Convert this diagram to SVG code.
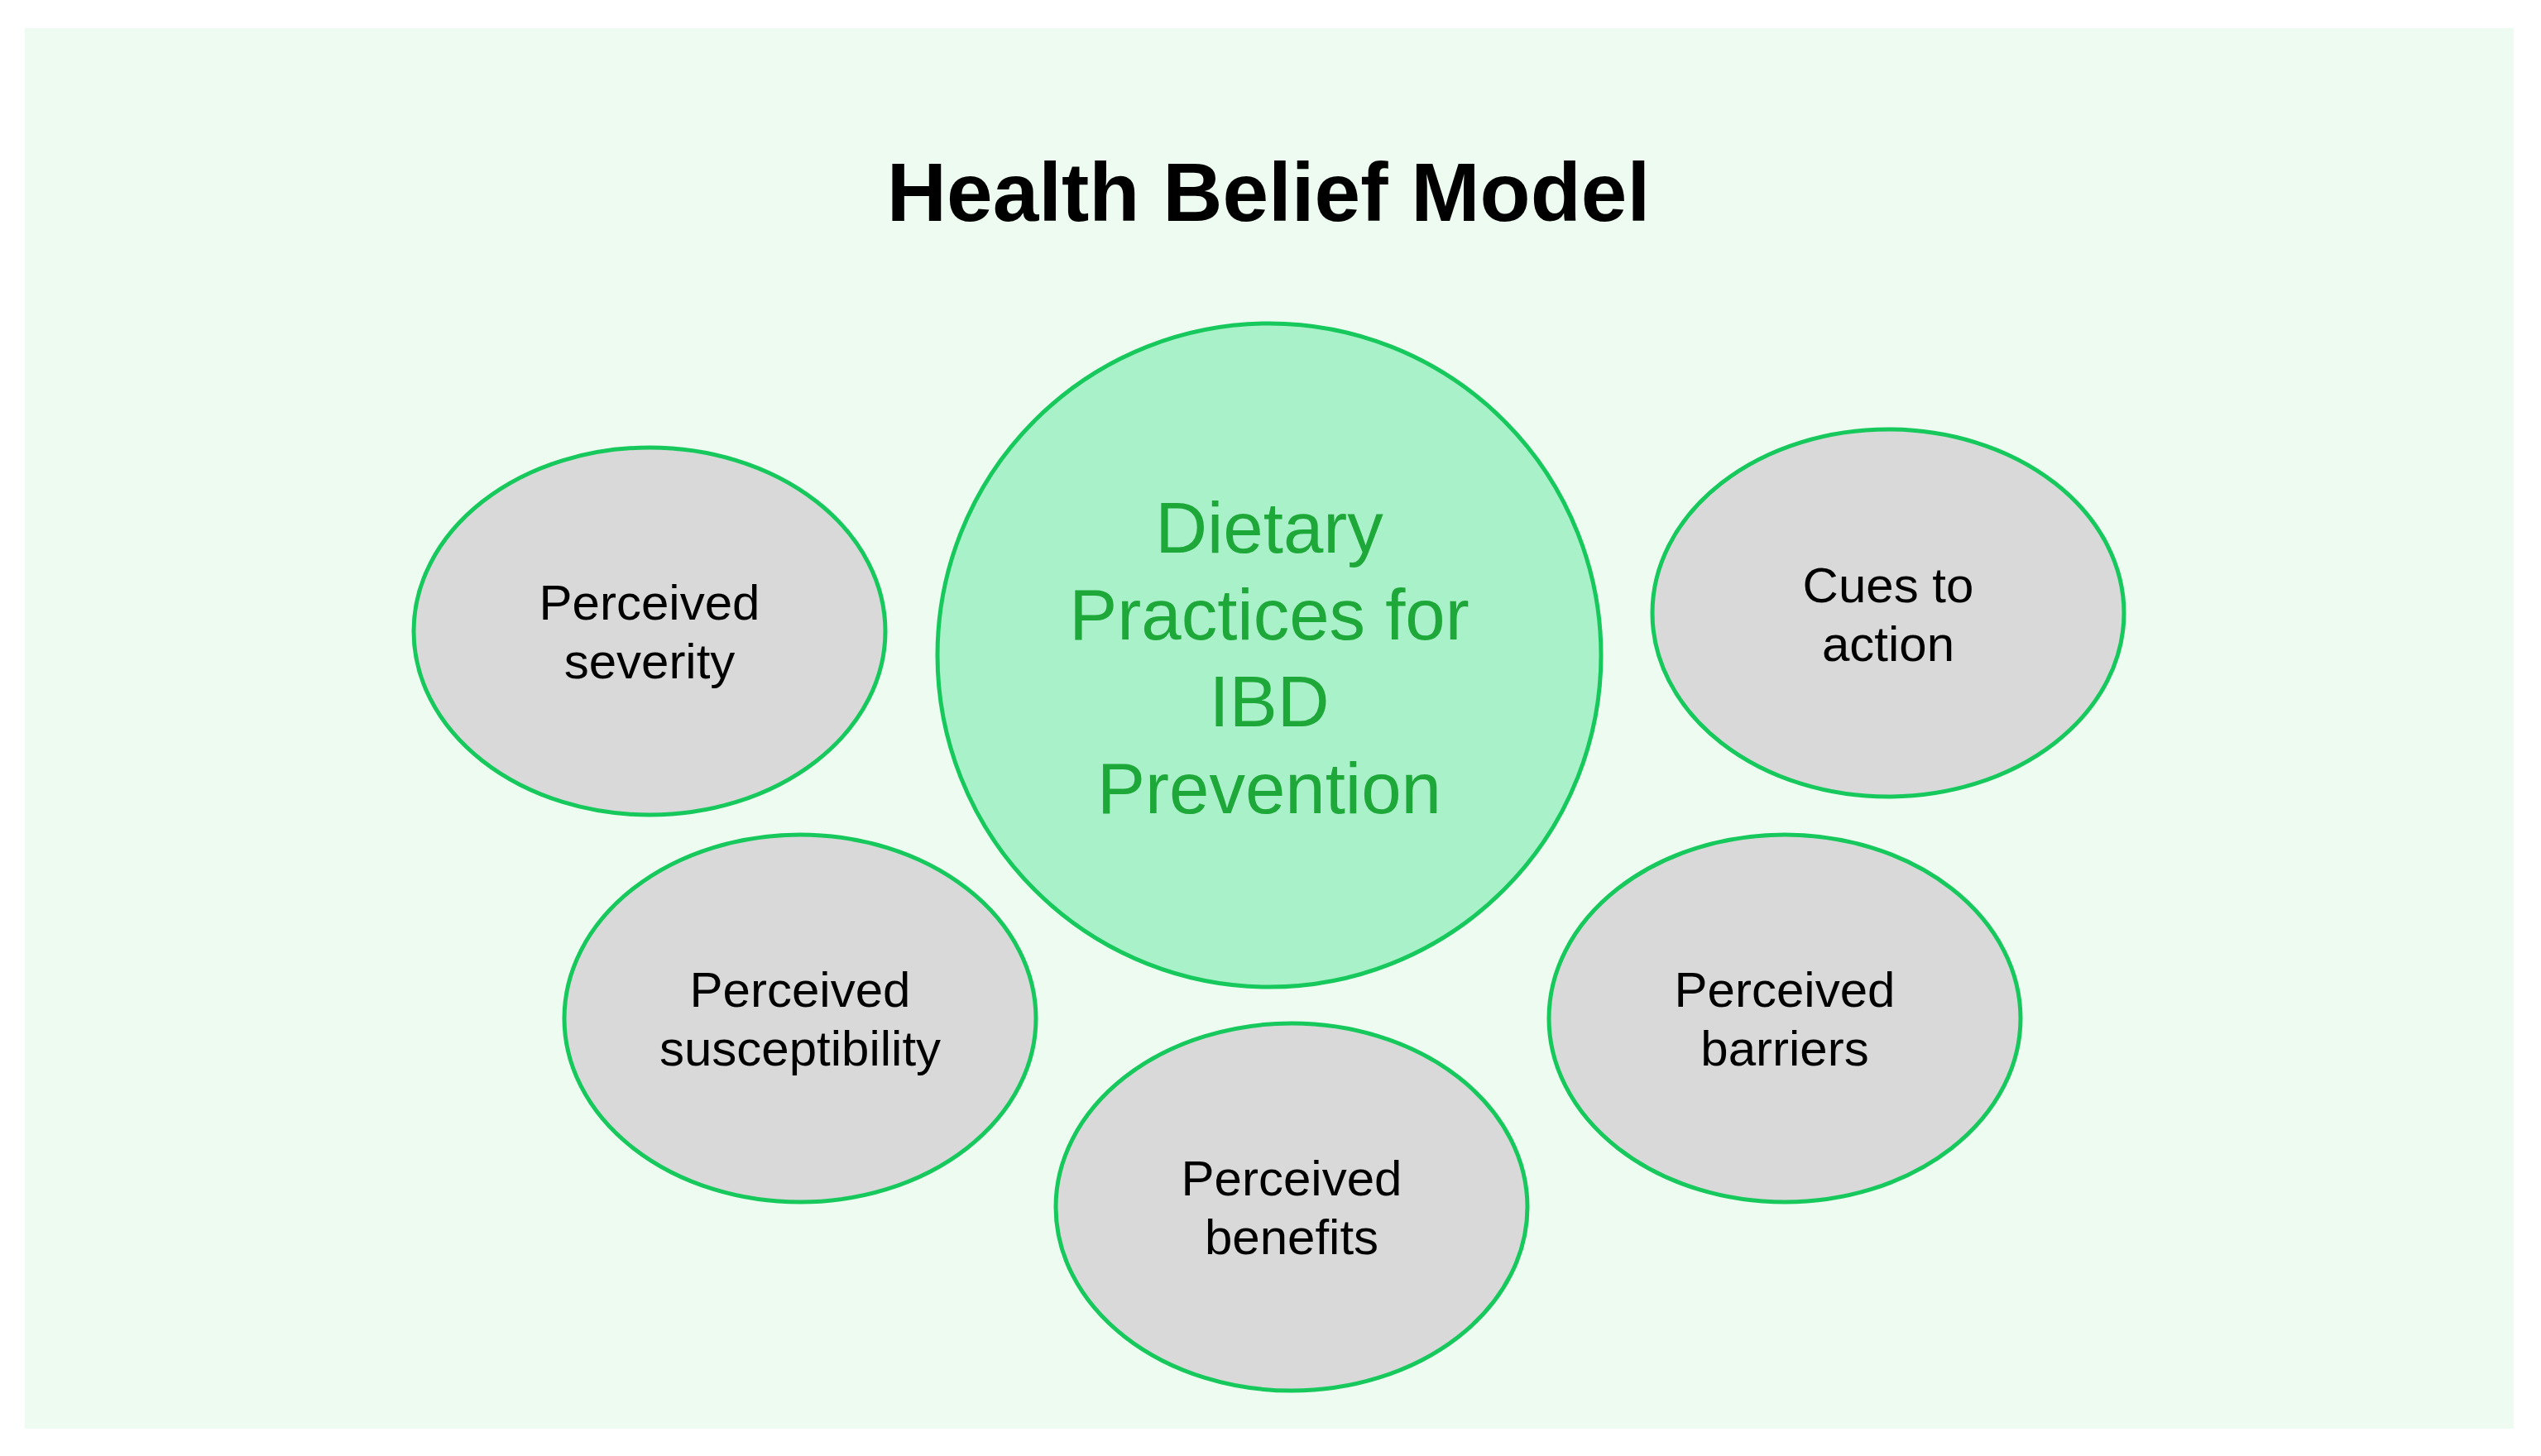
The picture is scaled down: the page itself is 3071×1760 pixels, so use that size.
<svg xmlns="http://www.w3.org/2000/svg" width="3071" height="1760" viewBox="0 0 3071 1760">
  <style>
    .node { fill: #d9d9d9; stroke: #17c95c; stroke-width: 5; }
    .core { fill: #a9f1c8; stroke: #17c95c; stroke-width: 5; }
    .lbl { font-family: "Liberation Sans", Arial, sans-serif; font-size: 60px; fill: #000000; text-anchor: middle; }
    .corelbl { font-family: "Liberation Sans", Arial, sans-serif; font-size: 87px; fill: #1fa83a; text-anchor: middle; }
    .title { font-family: "Liberation Sans", Arial, sans-serif; font-size: 100px; font-weight: bold; fill: #000000; text-anchor: middle; }
  </style>
  <rect x="0" y="0" width="3071" height="1760" fill="#ffffff"/>
  <rect x="30" y="34" width="3008" height="1693" fill="#edfbf0"/>
  <text class="title" x="1533" y="267">Health Belief Model</text>
  <g id="connectors"></g>
  <g id="center">
    <circle class="core" cx="1534" cy="792" r="401"/>
    <text class="corelbl" x="1534" y="668">Dietary</text>
    <text class="corelbl" x="1534" y="773">Practices for</text>
    <text class="corelbl" x="1534" y="878">IBD</text>
    <text class="corelbl" x="1534" y="983">Prevention</text>
  </g>
  <g id="severity">
    <ellipse class="node" cx="785" cy="763" rx="285" ry="222"/>
    <text class="lbl" x="785" y="749">Perceived</text>
    <text class="lbl" x="785" y="820">severity</text>
  </g>
  <g id="cues">
    <ellipse class="node" cx="2282" cy="741" rx="285" ry="222"/>
    <text class="lbl" x="2282" y="728">Cues to</text>
    <text class="lbl" x="2282" y="799">action</text>
  </g>
  <g id="susceptibility">
    <ellipse class="node" cx="967" cy="1231" rx="285" ry="222"/>
    <text class="lbl" x="967" y="1217">Perceived</text>
    <text class="lbl" x="967" y="1288">susceptibility</text>
  </g>
  <g id="barriers">
    <ellipse class="node" cx="2157" cy="1231" rx="285" ry="222"/>
    <text class="lbl" x="2157" y="1217">Perceived</text>
    <text class="lbl" x="2157" y="1288">barriers</text>
  </g>
  <g id="benefits">
    <ellipse class="node" cx="1561" cy="1459" rx="285" ry="222"/>
    <text class="lbl" x="1561" y="1445">Perceived</text>
    <text class="lbl" x="1561" y="1516">benefits</text>
  </g>
</svg>
